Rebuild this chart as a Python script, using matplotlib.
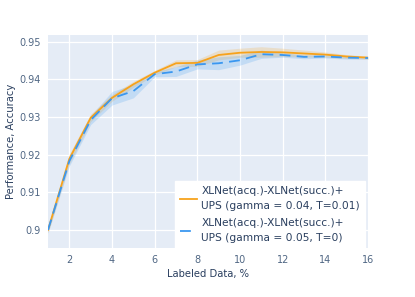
import matplotlib.pyplot as plt
import numpy as np

labeled = np.arange(1, 17)

# XLNet + UPS (gamma = 0.04, T=0.01)
acc_a = [0.9000, 0.9189, 0.9298, 0.9351, 0.9387, 0.9418, 0.9443, 0.9444,
         0.9465, 0.9471, 0.9473, 0.9472, 0.9469, 0.9466, 0.9461, 0.9458]
std_a = [0.0008, 0.0013, 0.0010, 0.0009, 0.0008, 0.0006, 0.0009, 0.0009,
         0.0013, 0.0012, 0.0014, 0.0011, 0.0009, 0.0007, 0.0005, 0.0004]

# XLNet + UPS (gamma = 0.05, T=0)
acc_b = [0.9000, 0.9183, 0.9292, 0.9350, 0.9369, 0.9414, 0.9421, 0.9440,
         0.9443, 0.9451, 0.9467, 0.9465, 0.9460, 0.9461, 0.9458, 0.9457]
std_b = [0.0008, 0.0013, 0.0012, 0.0018, 0.0018, 0.0007, 0.0013, 0.0012,
         0.0017, 0.0013, 0.0011, 0.0006, 0.0005, 0.0004, 0.0004, 0.0003]

label_a = "XLNet(acq.)-XLNet(succ.)+\nUPS (gamma = 0.04, T=0.01)"
label_b = "XLNet(acq.)-XLNet(succ.)+\nUPS (gamma = 0.05, T=0)"

orange = "#F7A21B"
blue = "#3A97F0"
tick_color = "#506784"
text_color = "#2A3F5F"

fig = plt.figure(figsize=(4.15, 2.97), dpi=100)
ax = fig.add_axes([0.1157, 0.165, 0.771, 0.717])
ax.set_facecolor("#E5ECF6")

acc_a, std_a = np.array(acc_a), np.array(std_a)
acc_b, std_b = np.array(acc_b), np.array(std_b)

ax.fill_between(labeled, acc_a - std_a, acc_a + std_a, color=orange, alpha=0.2, lw=0)
ax.fill_between(labeled, acc_b - std_b, acc_b + std_b, color=blue, alpha=0.2, lw=0)
ax.plot(labeled, acc_a, color=orange, lw=1.3, label=label_a)
ax.plot(labeled, acc_b, color=blue, lw=1.3, dashes=(6, 3.5), label=label_b)

ax.set_xlim(1, 16)
ax.set_ylim(0.8952, 0.9518)
ax.set_xticks(range(2, 17, 2))
ax.set_yticks([0.9, 0.91, 0.92, 0.93, 0.94, 0.95])
ax.set_yticklabels(["0.9", "0.91", "0.92", "0.93", "0.94", "0.95"])
ax.grid(color="white", lw=0.9)
ax.set_axisbelow(True)
for s in ax.spines.values():
    s.set_visible(False)
ax.tick_params(length=0, labelsize=7, colors=tick_color, pad=5)

ax.set_xlabel("Labeled Data, %", fontsize=7.2, color=text_color, labelpad=3)
ax.set_ylabel("Performance, Accuracy", fontsize=7.2, color=text_color)
ax.yaxis.set_label_coords(-0.1, 0.5)

leg = ax.legend(loc="lower right", bbox_to_anchor=(0.99, 0.0), fontsize=7.7,
                frameon=True, fancybox=False, framealpha=1, edgecolor="white",
                handlelength=1.6, labelspacing=0.6, borderpad=0.45,
                handletextpad=0.4, borderaxespad=0.0)
for t in leg.get_texts():
    t.set_color(text_color)
    t.set_linespacing(1.7)

fig.savefig("out.png", dpi=100)
